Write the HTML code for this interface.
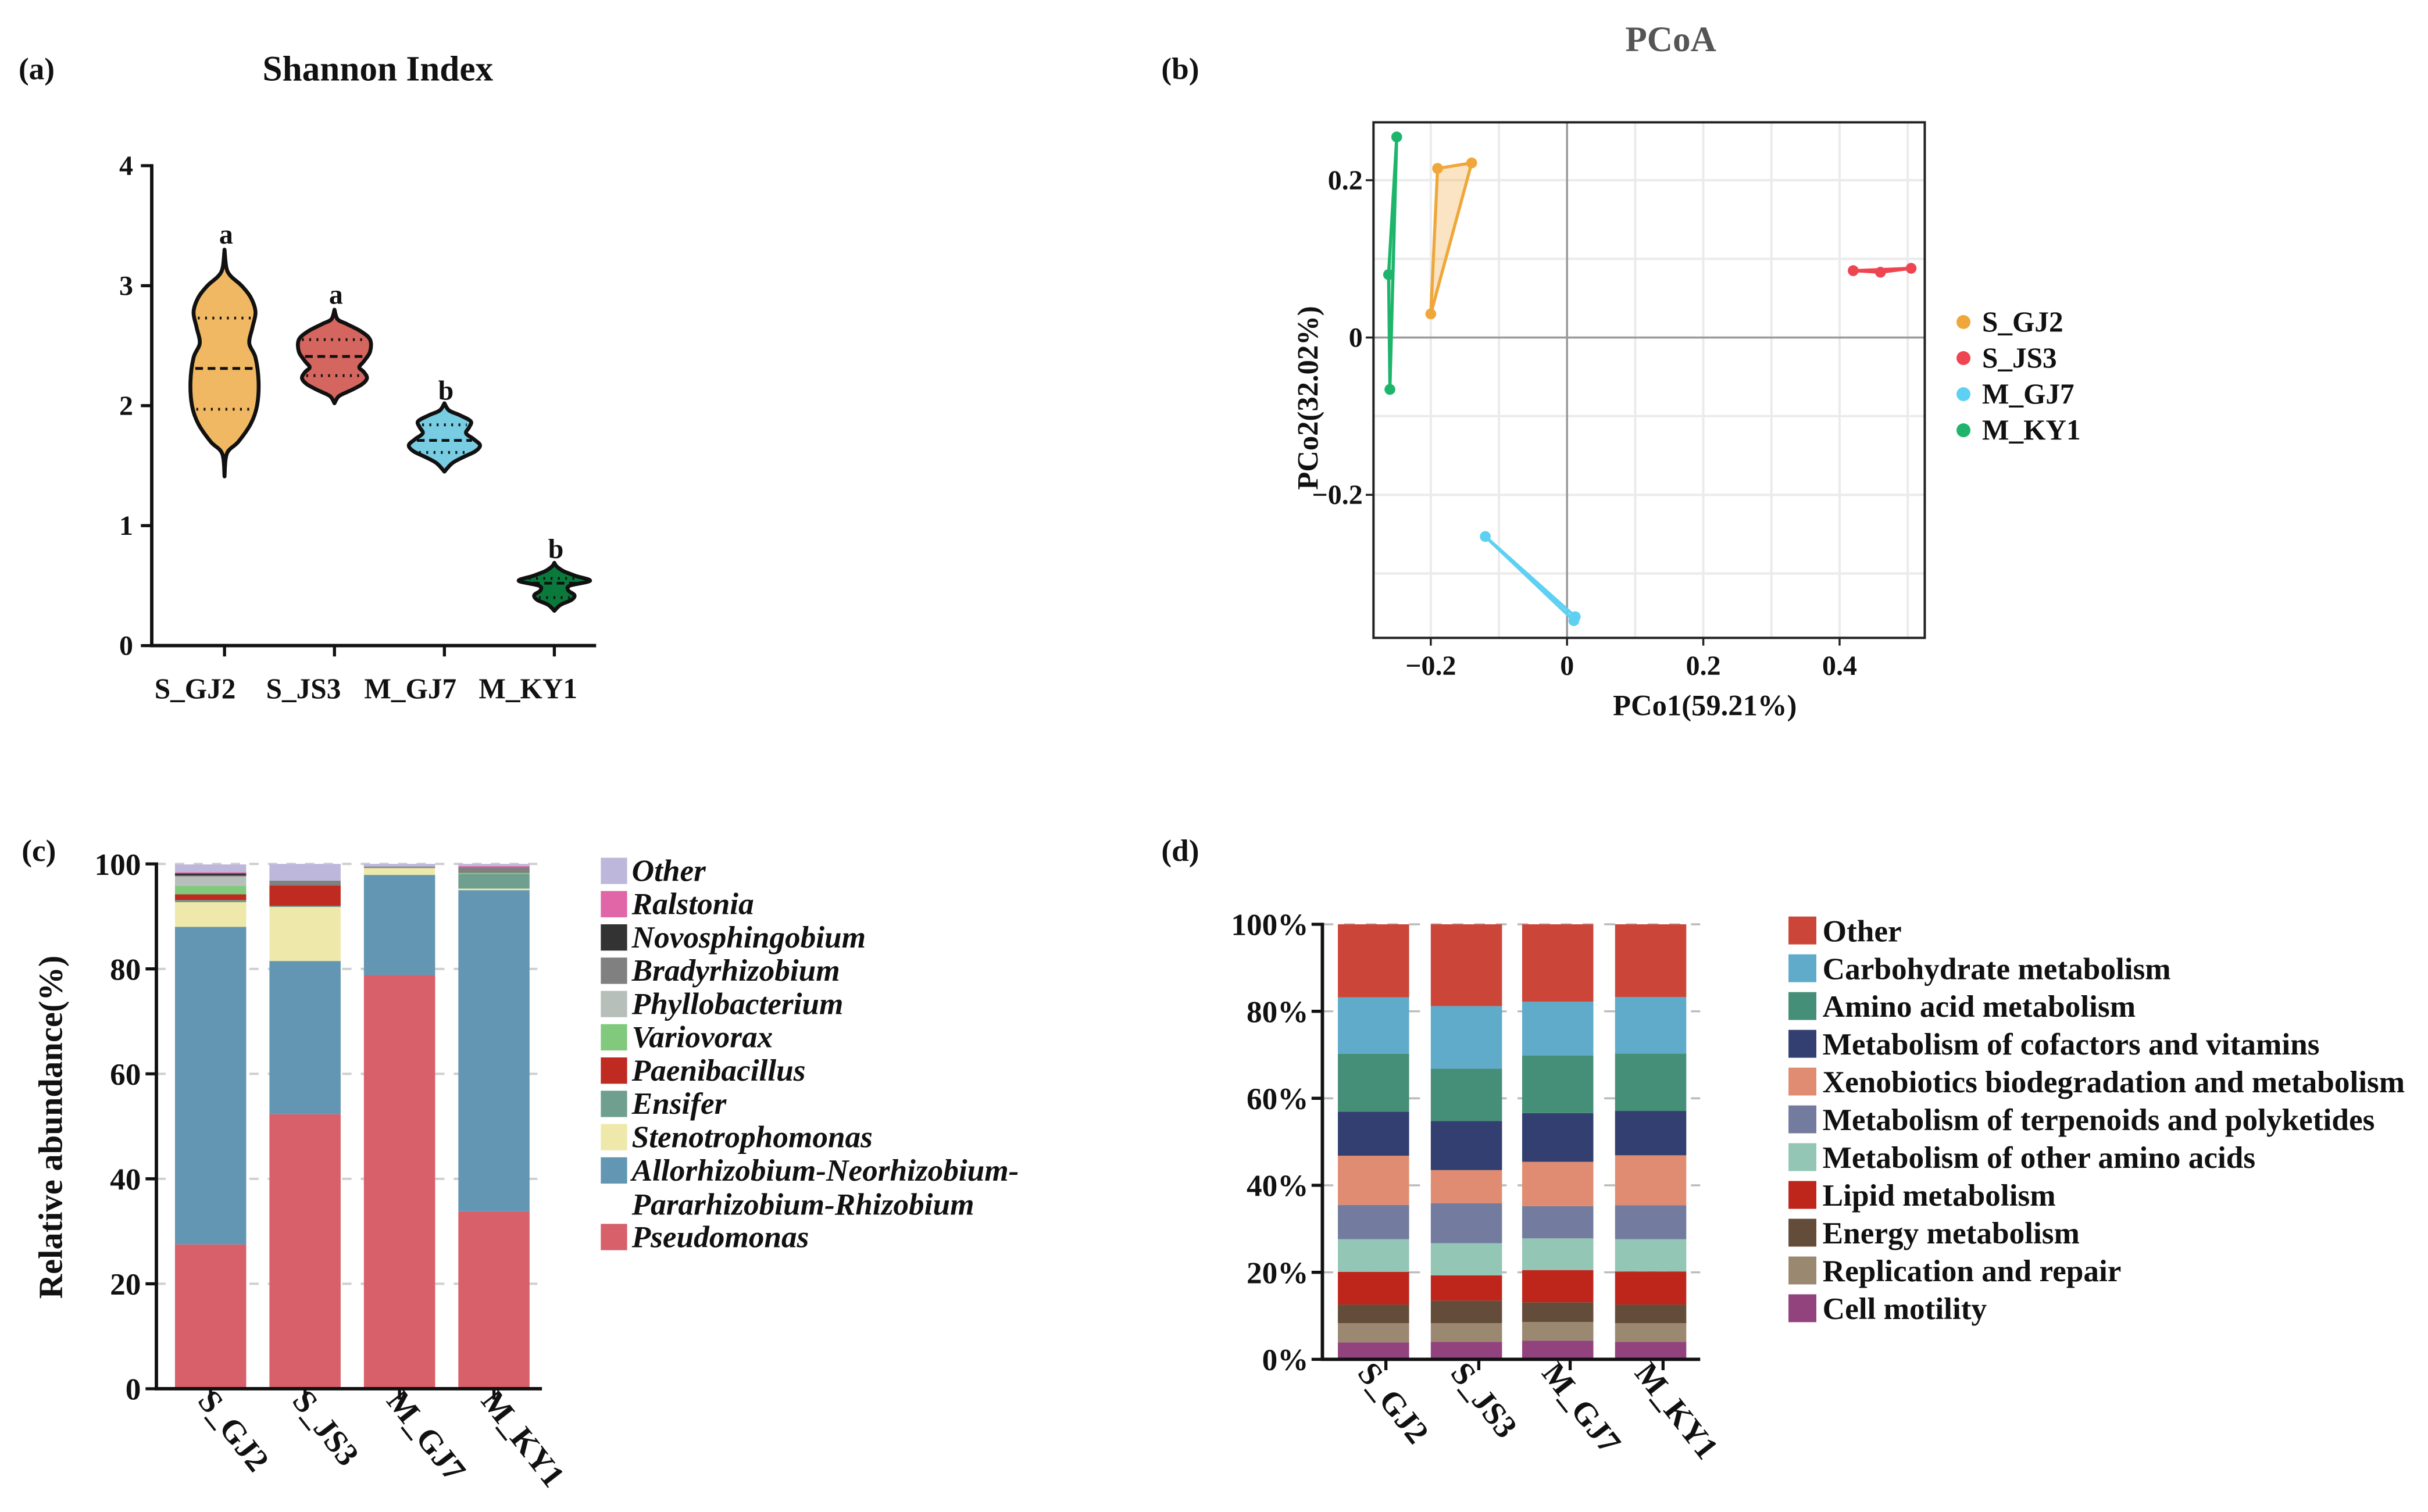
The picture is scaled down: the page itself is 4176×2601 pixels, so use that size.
<!DOCTYPE html>
<html><head><meta charset="utf-8">
<style>
html,body{margin:0;padding:0;background:#fff;}
svg{display:block;}
text{font-family:"Liberation Serif",serif;font-weight:bold;fill:#111;}
</style></head>
<body>
<svg id="fig" width="4176" height="2601" viewBox="0 0 1568 976.6" xmlns="http://www.w3.org/2000/svg"></svg>
<script>
// ---------- Panel A data ----------
const aGroups = ["S_GJ2","S_JS3","M_GJ7","M_KY1"];
const aColors = ["#F0B862","#D4655F","#78CDE3","#0A7A3C"];
const aProfile0 = [[1.41,0],[1.6,1.5],[1.7,9],[1.85,17],[2.0,21],[2.2,22],[2.4,20],[2.52,16],[2.65,18],[2.78,20],[2.9,17],[3.0,11],[3.08,4],[3.15,1.2],[3.3,0]];
const aProfile1 = [[2.02,0],[2.08,3],[2.13,11],[2.18,18],[2.23,21],[2.28,19],[2.32,16],[2.37,19],[2.45,23],[2.55,23],[2.62,17],[2.68,8],[2.72,2],[2.8,0]];
const aProfile2 = [[1.45,0],[1.52,5],[1.57,12],[1.62,20],[1.67,23],[1.72,19],[1.77,14],[1.82,16],[1.87,17],[1.92,10],[1.96,3],[2.02,0]];
const aProfile3 = [[0.29,0],[0.34,4],[0.38,11],[0.42,13],[0.46,9],[0.5,10],[0.54,23],[0.58,14],[0.62,6],[0.66,1.5],[0.69,0]];
const aQ1 = [1.97,2.25,1.61,0.40];
const aMedian = [2.31,2.41,1.71,0.52];
const aQ3 = [2.73,2.55,1.84,0.56];
const aLetters = ["a","a","b","b"];
const aLetterY = [3.35,2.85,2.05,0.73];
const aTicks = [0,1,2,3,4];

// ---------- Panel B data ----------
const bGroups = ["S_GJ2","S_JS3","M_GJ7","M_KY1"];
const bColors = ["#EFA73A","#EF4550","#5ED0F2","#1DB56B"];
const bX0 = [-0.2,-0.19,-0.14];   const bY0 = [0.03,0.215,0.222];
const bX1 = [0.42,0.46,0.505];    const bY1 = [0.085,0.083,0.088];
const bX2 = [-0.12,0.01,0.012];   const bY2 = [-0.253,-0.36,-0.355];
const bX3 = [-0.25,-0.262,-0.26]; const bY3 = [0.255,0.08,-0.066];
const bXTicks = [-0.2,0,0.2,0.4];
const bXTickLabels = ["−0.2","0","0.2","0.4"];
const bYTicks = [0.2,0,-0.2];
const bYTickLabels = ["0.2","0","−0.2"];

// ---------- Panel C data ----------
const cSamples = ["S_GJ2","S_JS3","M_GJ7","M_KY1"];
const cTaxa = ["Pseudomonas","Allorhizobium-Neorhizobium-Pararhizobium-Rhizobium","Stenotrophomonas","Ensifer","Paenibacillus","Variovorax","Phyllobacterium","Bradyrhizobium","Novosphingobium","Ralstonia","Other"];
const cColors = ["#D7606A","#6396B3","#EEE8AA","#6FA08F","#BF2A21","#80C97D","#B7BFBA","#808080","#333333","#E066A8","#BDB8DB"];
const cS0 = [27.5,60.5,4.7,0.4,1.1,1.6,1.8,0.2,0.4,0.2,1.5];
const cS1 = [52.3,29.2,10.3,0.2,3.9,0,0,0.9,0,0,3.2];
const cS2 = [78.8,19.1,1.3,0.1,0,0,0,0.2,0,0,0.5];
const cS3 = [33.8,61.2,0.3,2.8,0,0.2,0,1.1,0,0.2,0.4];
const cTicks = [0,20,40,60,80,100];

// ---------- Panel D data ----------
const dSamples = ["S_GJ2","S_JS3","M_GJ7","M_KY1"];
const dPaths = ["Cell motility","Replication and repair","Energy metabolism","Lipid metabolism","Metabolism of other amino acids","Metabolism of terpenoids and polyketides","Xenobiotics biodegradation and metabolism","Metabolism of cofactors and vitamins","Amino acid metabolism","Carbohydrate metabolism","Other"];
const dColors = ["#92427C","#9A8871","#644C3A","#BE261C","#93C6B4","#737C9F","#E08C72","#323F70","#458E77","#60AACA","#CC4539"];
const dS0 = [3.9,4.4,4.3,7.5,7.5,7.9,11.3,10.1,13.3,13.0,16.8];
const dS1 = [4.0,4.3,5.2,5.8,7.4,9.2,7.6,11.3,12.0,14.4,18.8];
const dS2 = [4.3,4.3,4.5,7.4,7.3,7.4,10.2,11.2,13.2,12.4,17.8];
const dS3 = [4.0,4.3,4.3,7.6,7.4,7.8,11.5,10.2,13.2,13.0,16.7];
const dTicks = [0,20,40,60,80,100];

const NS="http://www.w3.org/2000/svg";
const svg=document.getElementById('fig');
function el(tag,attrs,parent,txt){const e=document.createElementNS(NS,tag);for(const k in attrs)e.setAttribute(k,attrs[k]);if(txt!==undefined)e.textContent=txt;(parent||svg).appendChild(e);return e;}
function grp(name){const g=el('g',{});return g;}
function smooth(pts){let d=`M${pts[0][0]},${pts[0][1]}`;for(let i=0;i<pts.length-1;i++){const p0=pts[Math.max(0,i-1)],p1=pts[i],p2=pts[i+1],p3=pts[Math.min(pts.length-1,i+2)];const c1=[p1[0]+(p2[0]-p0[0])/6,p1[1]+(p2[1]-p0[1])/6],c2=[p2[0]-(p3[0]-p1[0])/6,p2[1]-(p3[1]-p1[1])/6];d+=` C${c1[0]},${c1[1]} ${c2[0]},${c2[1]} ${p2[0]},${p2[1]}`;}return d;}

// ================= PANEL A =================
(function(){
  const g=grp('panel-a-violin');
  const ya=v=>417-v*77.5;
  const cx=[145,216,287,358];
  let t=el('text',{x:12,y:51,'font-size':20},g,'(a)');
  t=el('text',{x:244,y:52,'font-size':23,'text-anchor':'middle'},g,'Shannon Index');
  let ax=el('line',{x1:98,y1:ya(4)-1,x2:98,y2:417+1,stroke:'#111','stroke-width':2.2},g);
  ax=el('line',{x1:97,y1:417,x2:385,y2:417,stroke:'#111','stroke-width':2.2},g);
  aTicks.forEach(v=>{el('line',{x1:91,y1:ya(v),x2:98,y2:ya(v),stroke:'#111','stroke-width':2},g);
    const tl=el('text',{x:86,y:ya(v)+6,'font-size':18,'text-anchor':'end'},g,String(v));});
  const profiles=[aProfile0,aProfile1,aProfile2,aProfile3];
  const labX=[126,196,265,341];
  aGroups.forEach((name,i)=>{
    el('line',{x1:cx[i],y1:417,x2:cx[i],y2:424,stroke:'#111','stroke-width':2},g);
    const tl=el('text',{x:labX[i],y:451,'font-size':18.5,'text-anchor':'middle'},g,name);
    const p=profiles[i];
    const right=p.map(q=>[cx[i]+q[1],ya(q[0])]);
    const left=p.slice().reverse().map(q=>[cx[i]-q[1],ya(q[0])]);
    const d=smooth(right)+' '+smooth(left).replace('M','L')+' Z';
    const v=el('path',{d:d,fill:aColors[i],stroke:'#111','stroke-width':2.5,'stroke-linejoin':'round'},g);
    
    
    const hw=val=>{for(let k=0;k<p.length-1;k++){if(val>=p[k][0]&&val<=p[k+1][0]){const f=(val-p[k][0])/(p[k+1][0]-p[k][0]);return p[k][1]+f*(p[k+1][1]-p[k][1]);}}return 0;};
    [[aQ1[i],'1.2 3.5'],[aMedian[i],'5 3'],[aQ3[i],'1.2 3.5']].forEach(([val,da])=>{
      const w=hw(val)-2;
      el('line',{x1:cx[i]-w,y1:ya(val),x2:cx[i]+w,y2:ya(val),stroke:'#111','stroke-width':1.8,'stroke-dasharray':da},g);});
    const lt=el('text',{x:cx[i]+1,y:ya(aLetterY[i]),'font-size':18,'text-anchor':'middle'},g,aLetters[i]);
    
  });
})();

// ================= PANEL B =================
(function(){
  const g=grp('panel-b-pcoa');
  const xb=v=>1012+v*440, yb=v=>218-v*508;
  let t=el('text',{x:750,y:51,'font-size':20},g,'(b)');
  t=el('text',{x:1079,y:33,'font-size':23,'text-anchor':'middle',style:'fill:#555'},g,'PCoA');
  const L=887,R=1243,T=79,B=412;
  [-0.2,-0.1,0.1,0.2,0.3,0.4,0.5].forEach(v=>{const x=xb(v);if(x>L&&x<R)el('line',{x1:x,y1:T,x2:x,y2:B,stroke:'#ebebeb','stroke-width':1.5},g);});
  [0.2,0.1,-0.1,-0.2,-0.3].forEach(v=>{const y=yb(v);if(y>T&&y<B)el('line',{x1:L,y1:y,x2:R,y2:y,stroke:'#ebebeb','stroke-width':1.5},g);});
  el('line',{x1:xb(0),y1:T,x2:xb(0),y2:B,stroke:'#999','stroke-width':1.3},g);
  el('line',{x1:L,y1:yb(0),x2:R,y2:yb(0),stroke:'#999','stroke-width':1.3},g);
  const box=el('rect',{x:L,y:T,width:R-L,height:B-T,fill:'none',stroke:'#222','stroke-width':1.5},g);
  bXTicks.forEach((v,i)=>{el('line',{x1:xb(v),y1:B,x2:xb(v),y2:B+5,stroke:'#222','stroke-width':1.3},g);
    const tl=el('text',{x:xb(v),y:B+24,'font-size':18,'text-anchor':'middle'},g,bXTickLabels[i]);});
  bYTicks.forEach((v,i)=>{el('line',{x1:L-5,y1:yb(v),x2:L,y2:yb(v),stroke:'#222','stroke-width':1.3},g);
    const tl=el('text',{x:L-7,y:yb(v)+6,'font-size':18,'text-anchor':'end'},g,bYTickLabels[i]);});
  t=el('text',{x:1101,y:462,'font-size':19,'text-anchor':'middle'},g,'PCo1(59.21%)');
  t=el('text',{x:0,y:0,'font-size':19,'text-anchor':'middle',transform:'translate(851,257) rotate(-90)'},g,'PCo2(32.02%)');
  const XS=[bX0,bX1,bX2,bX3],YS=[bY0,bY1,bY2,bY3];
  bGroups.forEach((name,i)=>{
    const pts=XS[i].map((x,k)=>xb(x)+','+yb(YS[i][k])).join(' ');
    const pg=el('polygon',{points:pts,fill:bColors[i],'fill-opacity':0.3,stroke:bColors[i],'stroke-width':2,'stroke-linejoin':'round'},g);
    
    XS[i].forEach((x,k)=>{const c=el('circle',{cx:xb(x),cy:yb(YS[i][k]),r:3.5,fill:bColors[i]},g);
      });
    const ly=208+i*23.3;
    const lc=el('circle',{cx:1268,cy:ly,r:4.5,fill:bColors[i]},g);
    const lt=el('text',{x:1280,y:ly+6,'font-size':18.5},g,name);
  });
})();

// ================= PANEL C =================
(function(){
  const g=grp('panel-c-stacked-bar');
  const yc=v=>897-v*3.39;
  let t=el('text',{x:14,y:556,'font-size':20},g,'(c)');
  cTicks.forEach(v=>{ if(v>0) el('line',{x1:101,y1:yc(v),x2:350,y2:yc(v),stroke:'#cfcfcf','stroke-width':1.5,'stroke-dasharray':'6 6'},g);
    el('line',{x1:94,y1:yc(v),x2:101,y2:yc(v),stroke:'#111','stroke-width':2},g);
    const tl=el('text',{x:91,y:yc(v)+7,'font-size':20,'text-anchor':'end'},g,String(v));});
  const S=[cS0,cS1,cS2,cS3];
  const bx=[113,174,235,296],bw=46;
  cSamples.forEach((name,i)=>{let cum=0;
    S[i].forEach((v,k)=>{if(v>0){const r=el('rect',{x:bx[i],y:yc(cum+v),width:bw,height:v*3.39,fill:cColors[k]},g);
      }cum+=v;});
    const c=bx[i]+bw/2;
    el('line',{x1:c,y1:897,x2:c,y2:904,stroke:'#111','stroke-width':2},g);
    const tl=el('text',{x:0,y:0,'font-size':21,transform:`translate(${c-9},${905}) rotate(52)`},g,name);
  });
  let ax=el('line',{x1:101,y1:yc(100)-1,x2:101,y2:898,stroke:'#111','stroke-width':2.2},g);
  ax=el('line',{x1:100,y1:897,x2:350,y2:897,stroke:'#111','stroke-width':2.2},g);
  t=el('text',{x:0,y:0,'font-size':22,'text-anchor':'middle',transform:'translate(40,728) rotate(-90)'},g,'Relative abundance(%)');
  const order=[10,9,8,7,6,5,4,3,2,1,0];
  let ly=554;
  order.forEach(k=>{
    const r=el('rect',{x:388,y:ly,width:17,height:17,fill:cColors[k]},g);
    if(k===1){
      let lt=el('text',{x:408,y:ly+15,'font-size':20,'font-style':'italic'},g,'Allorhizobium-Neorhizobium-');
      lt=el('text',{x:408,y:ly+37,'font-size':20,'font-style':'italic'},g,'Pararhizobium-Rhizobium');
      ly+=43;
    } else {
      const lt=el('text',{x:408,y:ly+15,'font-size':20,'font-style':'italic'},g,cTaxa[k]);
      ly+=21.5;
    }
  });
})();

// ================= PANEL D =================
(function(){
  const g=grp('panel-d-stacked-bar');
  const yd=v=>878-v*2.81;
  let t=el('text',{x:750,y:556,'font-size':20},g,'(d)');
  dTicks.forEach(v=>{ if(v>0) el('line',{x1:854,y1:yd(v),x2:1098,y2:yd(v),stroke:'#bbb','stroke-width':1.3,'stroke-dasharray':'7 7'},g);
    el('line',{x1:847,y1:yd(v),x2:854,y2:yd(v),stroke:'#111','stroke-width':2},g);
    const tl=el('text',{x:845,y:yd(v)+7,'font-size':20,'text-anchor':'end'},g,v+'%');});
  const S=[dS0,dS1,dS2,dS3];
  const bx=[864,924,983,1043],bw=46;
  dSamples.forEach((name,i)=>{let cum=0;
    S[i].forEach((v,k)=>{const r=el('rect',{x:bx[i],y:yd(Math.min(100,cum+v)),width:bw,height:(Math.min(100,cum+v)-cum)*2.81,fill:dColors[k]},g);
      cum+=v;});
    const c=bx[i]+bw/2+8;
    el('line',{x1:c,y1:878,x2:c,y2:885,stroke:'#111','stroke-width':2},g);
    const tl=el('text',{x:0,y:0,'font-size':21,transform:`translate(${bx[i]+12},${887}) rotate(52)`},g,name);
  });
  let ax=el('line',{x1:854,y1:yd(100)-1,x2:854,y2:879,stroke:'#111','stroke-width':2.2},g);
  ax=el('line',{x1:853,y1:878,x2:1098,y2:878,stroke:'#111','stroke-width':2.2},g);
  for(let j=0;j<11;j++){const k=10-j;const ly=592+j*24.4;
    const r=el('rect',{x:1155,y:ly,width:18,height:18,fill:dColors[k]},g);
    const lt=el('text',{x:1177,y:ly+16,'font-size':20},g,dPaths[k]);}
})();
</script>
</body></html>
